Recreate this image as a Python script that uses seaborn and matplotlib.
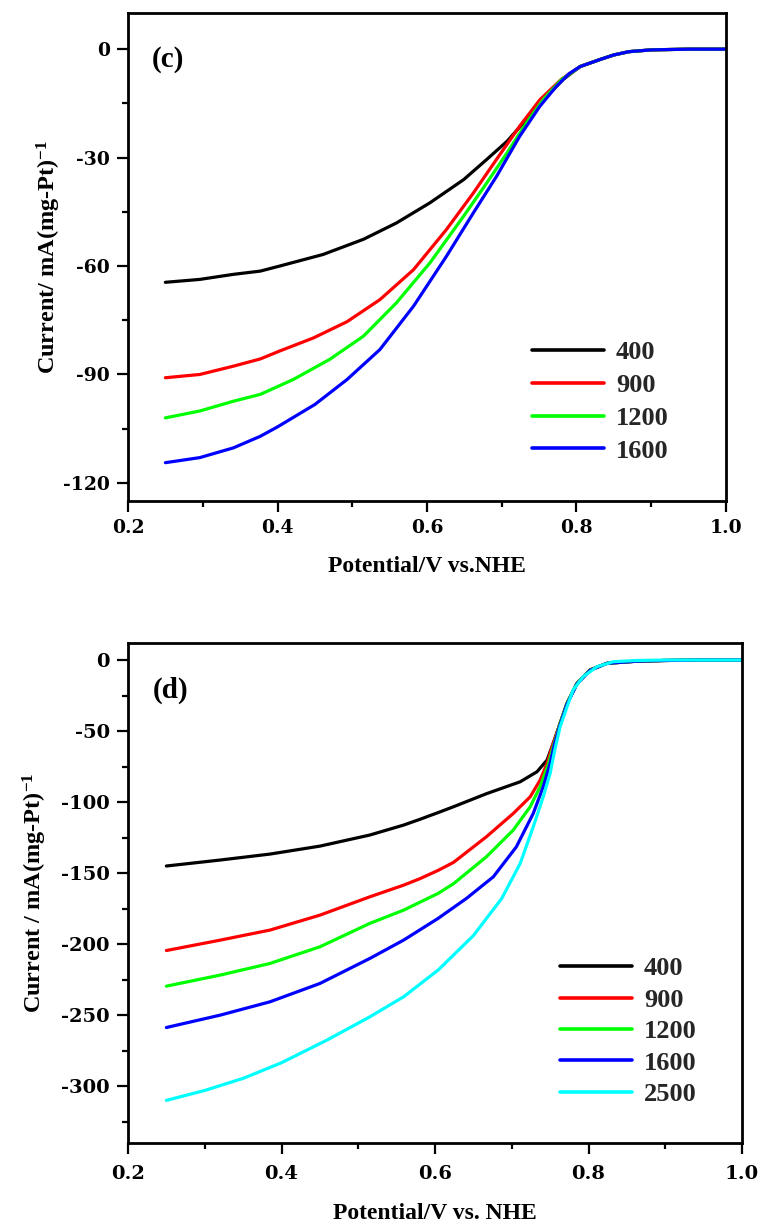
import numpy as np
import pandas as pd
import matplotlib
matplotlib.use("Agg")
import matplotlib.pyplot as plt
import seaborn as sns
from matplotlib.ticker import MultipleLocator

# ---------------- panel (c) data ----------------
c_labels = ["400", "900", "1200", "1600"]
c_x_400 = [0.25, 0.296, 0.341, 0.377, 0.403, 0.461, 0.515, 0.559, 0.604, 0.649, 0.680, 0.707, 0.733, 0.756, 0.782, 0.805, 0.831, 0.85, 0.87, 0.90, 0.95, 1.0]
c_y_400 = [-64.5, -63.7, -62.3, -61.4, -60.0, -56.8, -52.6, -48.1, -42.5, -36.1, -30.5, -25.5, -19.5, -14.0, -8.4, -4.8, -2.9, -1.6, -0.7, -0.2, 0.0, 0.0]
c_x_900 = [0.25, 0.296, 0.341, 0.377, 0.403, 0.448, 0.493, 0.537, 0.582, 0.626, 0.662, 0.693, 0.724, 0.751, 0.78, 0.805, 0.831, 0.85, 0.87, 0.90, 0.95, 1.0]
c_y_900 = [-90.9, -90.0, -87.7, -85.7, -83.5, -79.9, -75.4, -69.3, -61.0, -49.9, -39.8, -30.5, -21.3, -14.0, -8.3, -4.8, -2.9, -1.6, -0.7, -0.2, 0.0, 0.0]
c_x_1200 = [0.25, 0.296, 0.341, 0.377, 0.421, 0.470, 0.515, 0.559, 0.604, 0.649, 0.680, 0.707, 0.733, 0.756, 0.78, 0.805, 0.831, 0.85, 0.87, 0.90, 0.95, 1.0]
c_y_1200 = [-102.0, -100.1, -97.4, -95.5, -91.4, -85.8, -79.4, -70.2, -59.1, -46.2, -37.0, -28.7, -20.4, -13.8, -8.4, -4.8, -2.9, -1.6, -0.7, -0.2, 0.0, 0.0]
c_x_1600 = [0.25, 0.296, 0.341, 0.377, 0.40, 0.45, 0.493, 0.537, 0.582, 0.626, 0.662, 0.693, 0.724, 0.751, 0.773, 0.79, 0.805, 0.831, 0.85, 0.87, 0.90, 0.95, 1.0]
c_y_1600 = [-114.4, -113.0, -110.3, -107.1, -104.5, -98.3, -91.4, -83.1, -71.1, -57.3, -45.3, -35.2, -24.1, -15.8, -10.3, -6.8, -4.8, -2.9, -1.6, -0.7, -0.2, 0.0, 0.0]

# ---------------- panel (d) data ----------------
d_labels = ["400", "900", "1200", "1600", "2500"]
d_x_400 = [0.25, 0.320, 0.385, 0.450, 0.515, 0.559, 0.580, 0.604, 0.624, 0.667, 0.711, 0.733, 0.746, 0.754, 0.763, 0.772, 0.785, 0.802, 0.824, 0.863, 0.90, 0.95, 1.0]
d_y_400 = [-145.0, -140.8, -136.6, -131.0, -123.2, -116.2, -112.2, -107.4, -103.3, -94.1, -85.7, -78.6, -70.4, -58.7, -44.6, -30.5, -16.4, -7.0, -2.3, -0.8, -0.3, 0.0, 0.0]
d_x_900 = [0.25, 0.320, 0.385, 0.450, 0.515, 0.559, 0.580, 0.604, 0.624, 0.667, 0.702, 0.724, 0.737, 0.746, 0.754, 0.763, 0.772, 0.785, 0.802, 0.824, 0.863, 0.90, 0.95, 1.0]
d_y_900 = [-204.5, -197.2, -190.1, -179.6, -166.7, -158.5, -154.0, -148.1, -142.5, -124.4, -108.0, -96.3, -84.5, -72.8, -58.7, -44.6, -30.5, -16.4, -7.0, -2.3, -0.8, -0.3, 0.0, 0.0]
d_x_1200 = [0.25, 0.320, 0.385, 0.450, 0.515, 0.559, 0.604, 0.624, 0.667, 0.702, 0.724, 0.737, 0.748, 0.754, 0.763, 0.772, 0.785, 0.802, 0.824, 0.863, 0.90, 0.95, 1.0]
d_y_1200 = [-229.6, -221.8, -213.6, -201.9, -185.4, -176.1, -164.3, -157.5, -138.5, -119.7, -103.3, -89.2, -72.8, -61.0, -44.6, -30.5, -16.4, -7.0, -2.3, -0.8, -0.3, 0.0, 0.0]
d_x_1600 = [0.25, 0.320, 0.385, 0.450, 0.515, 0.559, 0.604, 0.641, 0.676, 0.706, 0.728, 0.741, 0.750, 0.756, 0.763, 0.772, 0.785, 0.802, 0.824, 0.863, 0.90, 0.95, 1.0]
d_y_1600 = [-258.7, -250.0, -240.6, -227.7, -210.1, -197.2, -181.9, -167.8, -152.6, -131.5, -108.0, -89.2, -72.8, -58.7, -45.5, -31.0, -16.8, -7.2, -2.3, -0.8, -0.3, 0.0, 0.0]
d_x_2500 = [0.25, 0.30, 0.35, 0.40, 0.459, 0.515, 0.559, 0.604, 0.650, 0.687, 0.711, 0.728, 0.741, 0.750, 0.756, 0.763, 0.772, 0.780, 0.793, 0.811, 0.832, 0.863, 0.90, 0.95, 1.0]
d_y_2500 = [-310.0, -303.0, -294.5, -283.5, -267.6, -251.2, -237.1, -218.3, -194.0, -167.8, -143.2, -117.4, -96.3, -79.8, -63.4, -47.0, -32.9, -21.1, -11.7, -4.7, -1.2, -0.3, 0.0, 0.0, 0.0]

colors_c = ["#000000", "#FF0000", "#00FF00", "#0000FF"]
colors_d = ["#000000", "#FF0000", "#00FF00", "#0000FF", "#00FFFF"]


def long_df(labels, xs, ys):
    frames = []
    for lab, x, y in zip(labels, xs, ys):
        frames.append(pd.DataFrame({"x": x, "y": y, "rpm": lab}))
    return pd.concat(frames, ignore_index=True)


df_c = long_df(c_labels, [c_x_400, c_x_900, c_x_1200, c_x_1600],
               [c_y_400, c_y_900, c_y_1200, c_y_1600])
df_d = long_df(d_labels, [d_x_400, d_x_900, d_x_1200, d_x_1600, d_x_2500],
               [d_y_400, d_y_900, d_y_1200, d_y_1600, d_y_2500])

sns.set_theme(style="ticks")
plt.rcParams["font.family"] = ["Liberation Serif", "DejaVu Serif"]
plt.rcParams["font.weight"] = "bold"
plt.rcParams["axes.unicode_minus"] = False
plt.rcParams["mathtext.fontset"] = "custom"
plt.rcParams["mathtext.rm"] = "Liberation Serif:bold"
plt.rcParams["mathtext.bf"] = "Liberation Serif:bold"
plt.rcParams["mathtext.it"] = "Liberation Serif:bold"

W, H = 764, 1226
fig = plt.figure(figsize=(W / 100, H / 100), dpi=100)
fig.patch.set_facecolor("white")


def px_axes(l, t, r, b):
    return fig.add_axes([l / W, 1 - b / H, (r - l) / W, (b - t) / H])


ax_c = px_axes(128, 13, 726, 501)
ax_d = px_axes(128, 643, 742, 1143)


def style_axes(ax, ylim, ymaj, ymin, ylabel, xlabel, panel, legend_anchor, n,
               lspace, tick_size, xpad, ypad):
    ax.set_xlim(0.2, 1.0)
    ax.set_ylim(*ylim)
    ax.xaxis.set_major_locator(MultipleLocator(0.2))
    ax.xaxis.set_minor_locator(MultipleLocator(0.1))
    ax.yaxis.set_major_locator(MultipleLocator(ymaj))
    ax.yaxis.set_minor_locator(MultipleLocator(ymin))
    ax.xaxis.set_major_formatter(matplotlib.ticker.FormatStrFormatter("%.1f"))
    ax.yaxis.set_major_formatter(matplotlib.ticker.FormatStrFormatter("%d"))
    for s in ax.spines.values():
        s.set_linewidth(2.0)
        s.set_color("black")
    ax.tick_params(which="major", direction="out", length=8, width=1.6,
                   color="black", top=False, right=False, pad=5)
    ax.tick_params(axis="x", which="major", pad=xpad)
    ax.tick_params(which="minor", direction="out", length=4.5, width=1.6,
                   color="black", top=False, right=False)
    for lab in ax.get_xticklabels() + ax.get_yticklabels():
        lab.set_fontfamily("DejaVu Serif")
        lab.set_fontweight("bold")
        lab.set_fontsize(tick_size)
        lab.set_color("black")
    ax.set_xlabel(xlabel, fontsize=17, fontweight="bold", color="black", labelpad=14)
    ax.set_ylabel(ylabel, fontsize=17.5, fontweight="bold", color="black", labelpad=ypad)
    ax.text(0.04, 0.905, panel, transform=ax.transAxes, fontsize=21,
            fontweight="bold", va="center", ha="left", color="black")
    handles, labels = ax.get_legend_handles_labels()
    for h in handles:
        h.set_linewidth(2.6)
    ax.legend(handles[:n], labels[:n], loc="upper left", bbox_to_anchor=legend_anchor,
              frameon=False, prop=dict(family="Liberation Serif", weight="bold", size=19),
              handlelength=2.75, handletextpad=0.45, labelspacing=lspace,
              borderpad=0, borderaxespad=0)
    ax.set_facecolor("white")


sns.lineplot(data=df_c, x="x", y="y", hue="rpm", palette=colors_c, ax=ax_c,
             estimator=None, sort=False, linewidth=2.3, legend=True)
sns.lineplot(data=df_d, x="x", y="y", hue="rpm", palette=colors_d, ax=ax_d,
             estimator=None, sort=False, linewidth=2.3, legend=True)

style_axes(ax_c, (-125, 10), 30, 15, r"Current/ mA(mg-Pt)$^{-1}$",
           "Potential/V vs.NHE", "(c)", (0.675, 0.328), 4, 0.35, 13.5, 5, 0)
style_axes(ax_d, (-340, 12), 50, 25, r"Current / mA(mg-Pt)$^{-1}$",
           "Potential/V vs. NHE", "(d)", (0.703, 0.372), 5, 0.3, 14, 8, 9)

fig.savefig("out.png", dpi=100, facecolor="white")
